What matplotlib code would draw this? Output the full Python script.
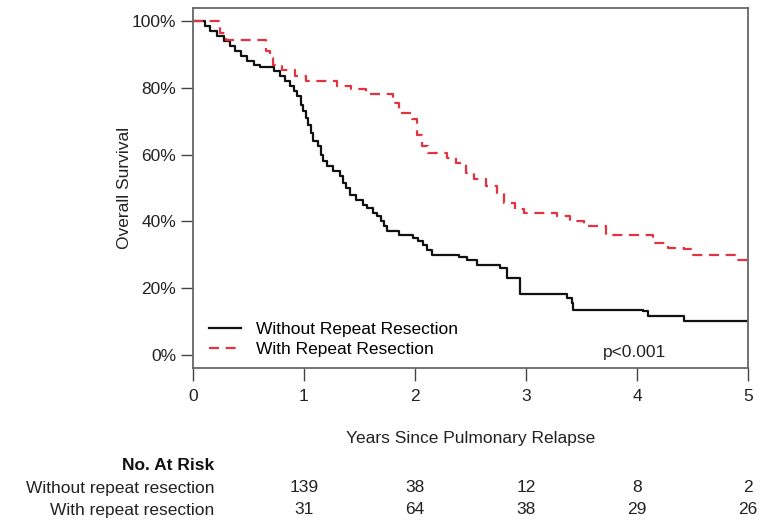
import matplotlib.pyplot as plt
import matplotlib.transforms as mtransforms

plt.rcParams['font.family'] = ['Liberation Sans', 'DejaVu Sans']

# Kaplan-Meier step points (years, % surviving)
t_without = [0, 0.11, 0.15, 0.22, 0.28, 0.33, 0.38, 0.43, 0.49, 0.55, 0.60, 0.73, 0.78,
             0.83, 0.87, 0.91, 0.94, 0.97, 0.99, 1.02, 1.04, 1.06, 1.08, 1.13, 1.15, 1.17,
             1.21, 1.26, 1.32, 1.35, 1.38, 1.41, 1.47, 1.53, 1.57, 1.62, 1.66, 1.69, 1.72,
             1.75, 1.86, 1.98, 2.03, 2.07, 2.11, 2.15, 2.40, 2.47, 2.56, 2.77, 2.83, 2.95,
             3.37, 3.41, 3.42, 4.05, 4.10, 4.42, 5.0]
s_without = [100, 98.5, 97, 95.5, 94, 92.5, 91, 89.5, 88, 87, 86.3, 85, 83.5,
             82, 80.5, 79, 77.5, 75, 73, 71, 69, 66.5, 64, 62.5, 60, 58,
             56.5, 55, 53.5, 51.5, 50, 48, 46.5, 45, 44, 42.5, 41.5, 40, 38.5,
             37, 36, 35, 34, 33, 31.5, 30, 29.3, 28.5, 27, 26, 23, 18.2,
             17, 15.6, 13.4, 13, 11.7, 10, 10]

t_with = [0, 0.24, 0.30, 0.66, 0.69, 0.72, 0.80, 0.92, 1.02, 1.30, 1.42, 1.56, 1.80,
          1.86, 1.97, 2.02, 2.06, 2.12, 2.29, 2.37, 2.46, 2.53, 2.64, 2.74, 2.80, 2.90,
          2.98, 3.28, 3.40, 3.52, 3.72, 4.14, 4.28, 4.42, 4.50, 4.88, 5.0]
s_with = [100, 96.5, 94.3, 91, 89, 87, 85.3, 83.5, 82, 80.5, 79.6, 78.2, 75.5,
          72.5, 70.6, 66, 62.6, 60.5, 59, 57.5, 54.5, 52.7, 50.6, 48.5, 45.5, 43.7,
          42.5, 41.6, 40, 38.6, 36, 33.5, 32, 31.7, 30, 28.5, 28.5]

risk_x = [1, 2, 3, 4, 5]
risk_without = [139, 38, 12, 8, 2]
risk_with = [31, 64, 38, 29, 26]

yticks = [0, 20, 40, 60, 80, 100]
xticks = [0, 1, 2, 3, 4, 5]

black = '#111111'
red = '#e33340'
grey = '#444444'
fs = 12.5

fig = plt.figure(figsize=(7.61, 5.22), dpi=100)
ax = fig.add_axes([193 / 761, 1 - 368 / 522, (748 - 193) / 761, (368 - 8) / 522])

ax.step(t_without, s_without, where='post', color=black, lw=1.6,
        label='Without Repeat Resection')
ax.step(t_with, s_with, where='post', color=red, lw=1.6,
        linestyle=(0, (4.5, 3)), label='With Repeat Resection')

ax.set_xlim(0, 5)
ax.set_ylim(-4, 104)
ax.set_xticks(xticks)
ax.set_xticklabels([str(x) for x in xticks])
ax.set_yticks(yticks)
ax.set_yticklabels([f'{y}%' for y in yticks])
ax.tick_params(axis='both', direction='out', length=9, width=1, color=grey,
               labelcolor='#222222', labelsize=fs)
ax.tick_params(axis='x', pad=6)
ax.tick_params(axis='y', pad=3)
for sp in ax.spines.values():
    sp.set_color('#666666')
    sp.set_linewidth(1.3)

ax.set_ylabel('Overall Survival', fontsize=fs, color='#222222', labelpad=0)

ax.legend(loc='lower left', bbox_to_anchor=(0.0, -0.012), frameon=False, fontsize=fs,
          handlelength=1.85, handletextpad=0.85, labelspacing=0.25, borderaxespad=0.5)

ax.text(3.98, 0.5, 'p<0.001', fontsize=fs, color='#222222', ha='center', va='center')

fig.text((193 + 748) / 2 / 761, 1 - 438 / 522, 'Years Since Pulmonary Relapse',
         fontsize=fs, color='#222222', ha='center', va='center')

# at-risk table: x in data units, y in figure units
trans = mtransforms.blended_transform_factory(ax.transData, fig.transFigure)
label_x = 214 / 761
fig.text(label_x, 1 - 466 / 522, 'No. At Risk', fontsize=fs, fontweight='bold',
         color='#111111', ha='right', va='center')
fig.text(label_x, 1 - 488 / 522, 'Without repeat resection', fontsize=fs,
         color='#222222', ha='right', va='center')
fig.text(label_x, 1 - 510 / 522, 'With repeat resection', fontsize=fs,
         color='#222222', ha='right', va='center')
for x, n1, n2 in zip(risk_x, risk_without, risk_with):
    ax.text(x, 1 - 488 / 522, str(n1), transform=trans, fontsize=fs,
            color='#222222', ha='center', va='center', clip_on=False)
    ax.text(x, 1 - 510 / 522, str(n2), transform=trans, fontsize=fs,
            color='#222222', ha='center', va='center', clip_on=False)

fig.savefig('out.png', dpi=100)
